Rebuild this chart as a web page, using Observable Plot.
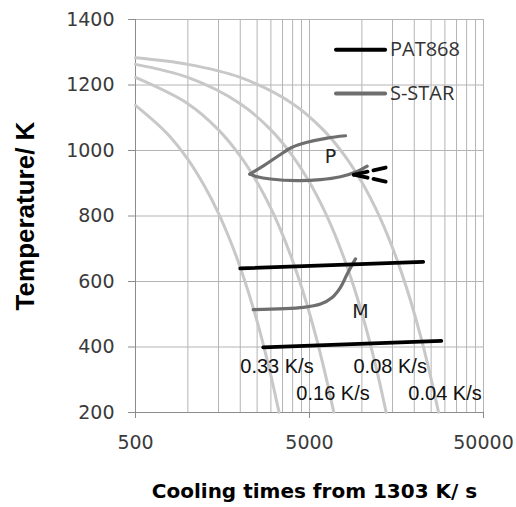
<!DOCTYPE html>
<html><head><meta charset="utf-8">
<script src="https://cdn.jsdelivr.net/npm/d3@7"></script>
<script src="https://cdn.jsdelivr.net/npm/@observablehq/plot@0.6"></script>
<style>html,body{margin:0;padding:0;background:#fff;}</style>
</head><body><div id="chart"></div>
<script>
// ---- tick values ----
const xTicks = [500, 5000, 50000];
const xGrid = [1000,1500,2000,2500,3000,3500,4000,4500,5000,10000,15000,20000,25000,30000,35000,40000,45000,50000];
const yTicks = [200, 400, 600, 800, 1000, 1200, 1400];
const yGrid = [400, 600, 800, 1000, 1200, 1400];

// ---- cooling curves (time s, temperature K) ----
const rateNames = ["0.33 K/s", "0.16 K/s", "0.08 K/s", "0.04 K/s"];
const cool033T = [500, 750, 1000, 1250, 1500, 1750, 2000, 2250, 2500, 2750, 3000, 3340];
const cool033K = [1138, 1055, 973, 890, 808, 725, 643, 560, 478, 395, 313, 201];
const cool016T = [500, 1000, 1500, 2000, 2500, 3000, 3500, 4000, 4500, 5000, 5500, 6000, 6500, 6890];
const cool016K = [1223, 1143, 1063, 983, 903, 823, 743, 663, 583, 503, 423, 343, 263, 201];
const cool008T = [500, 1000, 2000, 3000, 4000, 5000, 6000, 7000, 8000, 9000, 10000, 11000, 12000, 13000, 13780];
const cool008K = [1263, 1223, 1143, 1063, 983, 903, 823, 743, 663, 583, 503, 423, 343, 263, 201];
const cool004T = [500, 1000, 2000, 4000, 6000, 8000, 10000, 12000, 14000, 16000, 18000, 20000, 22000, 24000, 26000, 27550];
const cool004K = [1283, 1263, 1223, 1143, 1063, 983, 903, 823, 743, 663, 583, 503, 423, 343, 263, 201];
const rateLabelT = [2000, 4200, 8950, 18500];
const rateLabelK = [340, 258, 340, 258];

// ---- S-STAR ----
const sstarPStartT = [2270, 2731, 3317, 3977, 4850, 6322, 8048];
const sstarPStartK = [928, 954, 984, 1010, 1025, 1038, 1045];
const sstarPEndT = [2270, 2502, 2985, 4250, 5786, 7536, 9400, 10730];
const sstarPEndK = [928, 920, 913, 908, 911, 920, 936, 952];
const sstarMT = [2374, 4620, 5786, 6750, 7536, 8234, 9190];
const sstarMK = [514, 521, 531, 551, 582, 623, 669];

// ---- PAT868 ----
const patMsT = [2000, 22500];
const patMsK = [640, 660];
const patMfT = [2710, 28600];
const patMfK = [399, 419];
const patPStartT = [9000, 13700];
const patPStartK = [926, 948];
const patPEndT = [9000, 13700];
const patPEndK = [926, 905];

// ---- legend & region labels ----
const seriesNames = ["PAT868", "S-STAR"];
const legendLineT = [7100, 13600];
const legendK = [1308, 1174];
const legendTextT = 14500;
const regionNames = ["P", "M"];
const regionT = [6600, 9820];
const regionK = [981, 508];

const rows = (ts, ks, key) => ts.map((t, i) => ({t, K: ks[i], key}));
const coolRows = [
  ...rows(cool033T, cool033K, rateNames[0]),
  ...rows(cool016T, cool016K, rateNames[1]),
  ...rows(cool008T, cool008K, rateNames[2]),
  ...rows(cool004T, cool004K, rateNames[3])
];
const sstarRows = [
  ...rows(sstarPStartT, sstarPStartK, "Ps"),
  ...rows(sstarPEndT, sstarPEndK, "Pf"),
  ...rows(sstarMT, sstarMK, "M")
];
const patRows = [
  ...rows(patMsT, patMsK, "Ms"),
  ...rows(patMfT, patMfK, "Mf")
];
const patPRows = [
  ...rows(patPStartT, patPStartK, "Ps"),
  ...rows(patPEndT, patPEndK, "Pf")
];
const rateLabelRows = rateNames.map((n, i) => ({n, t: rateLabelT[i], K: rateLabelK[i]}));
const legendLineRows = [
  ...rows(legendLineT, [legendK[0], legendK[0]], seriesNames[0]),
  ...rows(legendLineT, [legendK[1], legendK[1]], seriesNames[1])
];
const legendTextRows = seriesNames.map((n, i) => ({n, t: legendTextT, K: legendK[i]}));
const regionRows = regionNames.map((n, i) => ({n, t: regionT[i], K: regionK[i]}));

const chart = Plot.plot({
  width: 516,
  height: 507,
  marginLeft: 135,
  marginRight: 33,
  marginTop: 19,
  marginBottom: 95,
  style: {background: "#fff", color: "#333", fontFamily: "DejaVu Sans"},
  x: {type: "log", domain: [500, 50000], label: null},
  y: {domain: [200, 1400], label: null},
  marks: [
    Plot.ruleX(xGrid, {stroke: "#b4b4b4", strokeWidth: 1}),
    Plot.ruleY(yGrid, {stroke: "#b4b4b4", strokeWidth: 1}),
    Plot.ruleX([500], {stroke: "#8c8c8c", strokeWidth: 1}),
    Plot.ruleY([200], {stroke: "#8c8c8c", strokeWidth: 1}),
    Plot.line(coolRows, {x: "t", y: "K", z: "key", stroke: "#c8c8c8", strokeWidth: 3, curve: "catmull-rom"}),
    Plot.line(sstarRows, {x: "t", y: "K", z: "key", stroke: "#6e6e6e", strokeWidth: 3.2, curve: "catmull-rom", strokeLinecap: "round"}),
    Plot.line(patRows, {x: "t", y: "K", z: "key", stroke: "#000", strokeWidth: 3.8, strokeLinecap: "round"}),
    Plot.line(patPRows, {x: "t", y: "K", z: "key", stroke: "#000", strokeWidth: 3.8, strokeDasharray: "14,6", strokeLinecap: "round"}),
    Plot.line(legendLineRows, {x: "t", y: "K", z: "key", stroke: (d) => d.key === "PAT868" ? "#000" : "#6e6e6e", strokeWidth: 4, strokeLinecap: "round"}),
    Plot.text(legendTextRows, {x: "t", y: "K", text: "n", textAnchor: "start", fontFamily: "Open Sans", fontSize: 20, fill: "#333"}),
    Plot.text(rateLabelRows, {x: "t", y: "K", text: "n", textAnchor: "start", fontFamily: "Liberation Sans", fontSize: 20, fill: "#111"}),
    Plot.text(regionRows, {x: "t", y: "K", text: "n", fontFamily: (d) => d.n === "P" ? "Open Sans" : "DejaVu Sans", fontSize: 19, fill: "#222"}),
    Plot.axisX(xTicks, {tickSize: 6, tickFormat: () => "", stroke: "#8c8c8c"}),
    Plot.text(xTicks, {x: (d) => d, text: (d) => `${d}`, frameAnchor: "bottom", dy: 30, lineAnchor: "middle", fontSize: 19, fill: "#3a3a3a"}),
    Plot.axisY(yTicks, {tickSize: 7, tickPadding: 14, tickFormat: (d) => `${d}`, fontSize: 19, stroke: "#8c8c8c", fill: "#3a3a3a"}),
    Plot.text(["Cooling times from 1303 K/ s"], {frameAnchor: "bottom", dy: 79, dx: 5, fontWeight: "bold", fontSize: 20, fill: "#000", lineAnchor: "middle"}),
    Plot.text(["Temperature/ K"], {frameAnchor: "left", dx: -110, dy: 0, rotate: -90, textAnchor: "middle", lineAnchor: "middle", fontFamily: "Liberation Sans", fontWeight: "bold", fontSize: 26, fill: "#000"})
  ]
});
document.getElementById("chart").appendChild(chart);
</script>
</body></html>
